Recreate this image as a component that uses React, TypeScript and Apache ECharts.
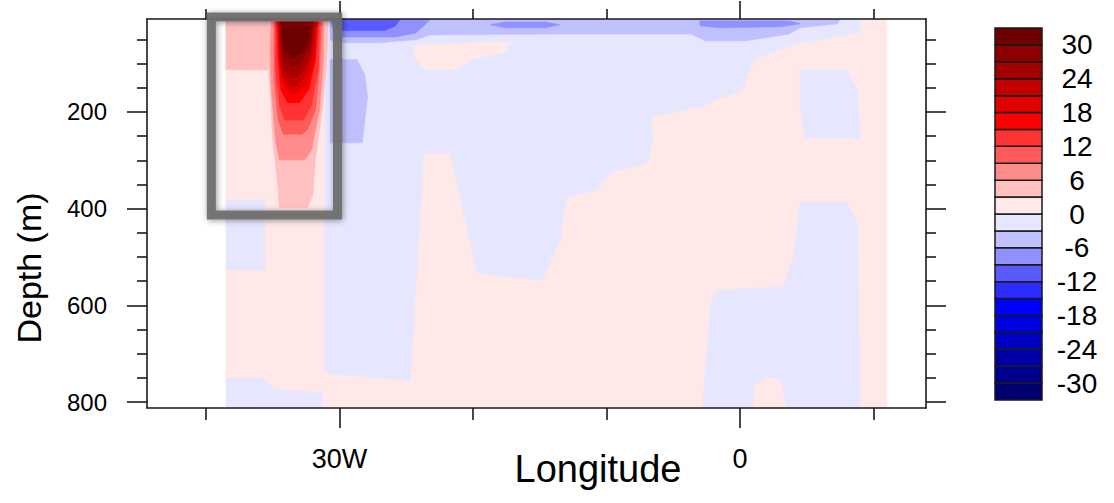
import React, { useEffect, useRef } from 'react';
import * as echarts from 'echarts';

// ---------- axes ----------
const LON_RANGE = [-44.42, 13.93];
const DEPTH_RANGE = [8, 812];
const LON_TICKS_MAJOR = [-30, 0];
const LON_TICKS_MINOR = [-40, -20, -10, 10];
const DEPTH_TICKS_MAJOR = [200, 400, 600, 800];
const DEPTH_TICKS_MINOR = [50, 100, 150, 250, 300, 350, 450, 500, 550, 650, 700, 750];

// ---------- colour bar (lower bound of each 3-unit class) ----------
const CBAR_LEVELS = [-33, -30, -27, -24, -21, -18, -15, -12, -9, -6, -3, 0, 3, 6, 9, 12, 15, 18, 21, 24, 27, 30];
const CBAR_COLORS = [
  '#00006e', '#00008c', '#0000a5', '#0000c3', '#0000e1', '#0000ff', '#2c2cff', '#5a5aff', '#9090ff', '#c0c0ff', '#e6e7ff',
  '#ffe8e8', '#ffc0c0', '#ff8c8c', '#ff5a5a', '#ff3333', '#ff0000', '#e10000', '#c30000', '#a50000', '#8c0000', '#6e0000',
];
const CBAR_LABELS = [-30, -24, -18, -12, -6, 0, 6, 12, 18, 24, 30];

// ---------- contour regions [longitude (deg, W<0), depth (m)] ----------
const domainPink = [[-38.5, 8], [11.0, 8], [11.0, 812], [-38.5, 812]];
const bigBlue = [
  [-31.1, 8], [9.0, 8], [9.0, 36.5], [4.5, 57], [1.0, 92], [0.2, 154], [-3.0, 190], [-6.7, 210], [-6.5, 258],
  [-7.0, 305], [-9.7, 326], [-10.7, 361], [-13.0, 376], [-13.5, 465], [-14.8, 548], [-17.5, 541], [-19.7, 533],
  [-21.7, 285], [-23.7, 285], [-24.7, 755], [-27.0, 750], [-31.1, 740],
];
const upperPinkPatch = [[-24.3, 61], [-17.2, 55], [-17.6, 76], [-20.2, 92], [-21.3, 113], [-23.6, 113], [-24.5, 82]];
const eastBluePatch = [[4.5, 113], [8.0, 113], [8.8, 159], [9.0, 254], [4.9, 254], [4.5, 196]];
const eastBlueDeep = [[4.5, 386], [8.0, 386], [8.8, 430], [9.0, 812], [-2.8, 812], [-2.2, 595], [-1.7, 568], [3.2, 562], [4.0, 500]];
const eastPinkNotch = [[1.0, 812], [1.1, 765], [1.9, 750], [3.0, 754], [3.5, 812]];
const westBlueBottom = [[-38.5, 750], [-35.8, 750], [-34.8, 775], [-31.3, 779], [-31.3, 812], [-38.5, 812]];
const westBlueMid = [[-38.5, 382], [-35.6, 382], [-35.6, 527], [-38.5, 527]];
const westPinkTop = [[-38.5, 8], [-35.4, 8], [-35.4, 113], [-38.5, 113]];
const boxBluePatch = [[-30.7, 92], [-28.7, 92], [-28.1, 123], [-27.9, 169], [-28.3, 264], [-30.7, 264]];
const surfaceBand = [
  [-30.7, 8], [7.5, 8], [7.3, 18], [4.5, 26], [3.7, 39], [0.4, 53], [-2.6, 53], [-3.7, 39], [-13.5, 39],
  [-23.2, 41], [-24.3, 51], [-27.0, 57], [-30.3, 57], [-30.7, 51],
];
const surfaceWest = [[-30.7, 8], [-23.2, 8], [-23.6, 20], [-24.3, 37], [-25.8, 45], [-30.3, 45]];
const surfaceLens1 = [[-18.7, 20], [-17.6, 14], [-14.6, 14], [-13.5, 20], [-14.6, 26], [-17.6, 26]];
const surfaceLens2 = [[-3.0, 12], [3.7, 12], [4.5, 18], [3.0, 24], [-1.5, 26], [-3.0, 22]];
const surfaceCore = [[-30.3, 10], [-25.5, 10], [-25.8, 22], [-26.6, 32], [-30.0, 32]];
const blob3 = [
  [-35.4, 8], [-30.9, 8], [-30.9, 51], [-31.0, 113], [-31.3, 196], [-31.8, 299], [-32.0, 372], [-32.4, 397],
  [-34.5, 397], [-34.6, 361], [-35.0, 258], [-35.2, 154], [-35.4, 72],
];
const blob6 = [[-35.1, 8], [-31.2, 8], [-31.2, 92], [-31.5, 196], [-32.1, 279], [-32.6, 299], [-34.5, 299], [-34.8, 258], [-35.1, 154], [-35.2, 72]];
const blob9 = [[-34.9, 8], [-31.3, 8], [-31.5, 113], [-31.8, 196], [-32.4, 237], [-32.8, 246], [-34.2, 246], [-34.6, 217], [-34.9, 134]];
const blob12 = [[-34.8, 8], [-31.5, 8], [-31.6, 113], [-32.1, 186], [-32.7, 217], [-34.1, 217], [-34.5, 186], [-34.8, 113]];
const blob15 = [[-34.7, 8], [-31.6, 8], [-31.8, 92], [-32.3, 154], [-33.0, 181], [-33.9, 181], [-34.4, 154], [-34.6, 92]];
const blob18 = [[-34.6, 8], [-31.7, 8], [-31.9, 92], [-32.5, 144], [-33.2, 161], [-33.8, 161], [-34.3, 134], [-34.5, 92]];
const blob21 = [[-34.5, 8], [-31.8, 8], [-32.0, 82], [-32.7, 130], [-33.3, 146], [-33.7, 146], [-34.3, 123], [-34.5, 82]];
const blob24 = [[-34.45, 8], [-31.9, 8], [-32.1, 72], [-32.7, 113], [-33.3, 128], [-33.8, 126], [-34.3, 105], [-34.45, 61]];
const blob27 = [[-34.4, 8], [-32.0, 8], [-32.2, 61], [-32.8, 94], [-33.5, 108], [-34.1, 94], [-34.4, 51]];
const blob30 = [[-34.3, 24], [-32.2, 24], [-32.3, 50], [-32.7, 76], [-33.5, 88], [-34.1, 74], [-34.35, 45]];

// drawn in order; level = lower bound of the class
const REGIONS = [
  { level: 0, pts: domainPink },
  { level: -3, pts: bigBlue },
  { level: 0, pts: upperPinkPatch },
  { level: -3, pts: eastBluePatch },
  { level: -3, pts: eastBlueDeep },
  { level: 0, pts: eastPinkNotch },
  { level: -3, pts: westBlueBottom },
  { level: -3, pts: westBlueMid },
  { level: 3, pts: westPinkTop },
  { level: -6, pts: boxBluePatch },
  { level: -6, pts: surfaceBand },
  { level: -9, pts: surfaceWest },
  { level: -9, pts: surfaceLens1 },
  { level: -9, pts: surfaceLens2 },
  { level: -12, pts: surfaceCore },
  { level: 3, pts: blob3 },
  { level: 6, pts: blob6 },
  { level: 9, pts: blob9 },
  { level: 12, pts: blob12 },
  { level: 15, pts: blob15 },
  { level: 18, pts: blob18 },
  { level: 21, pts: blob21 },
  { level: 24, pts: blob24 },
  { level: 27, pts: blob27 },
  { level: 30, pts: blob30 },
];

// highlighted box [lonWest, depthTop, lonEast, depthBottom]
const BOX = [-39.6, 4, -30.15, 413];

const FONT = 'Liberation Sans, Arial, Helvetica, sans-serif';
const colorOf = (lvl: number) => CBAR_COLORS[CBAR_LEVELS.indexOf(lvl)];
const lonFmt = (v: number) => (v === 0 ? '0' : v < 0 ? `${-v}W` : `${v}E`);

export default function App() {
  const ref = useRef<HTMLDivElement>(null);
  useEffect(() => {
    if (!ref.current) return;
    const chart = echarts.init(ref.current, undefined, { renderer: 'svg' });
    const lineStyle = { color: '#1a1a1a', width: 1.6 };
    const xBase = {
      type: 'value', gridIndex: 0, min: LON_RANGE[0], max: LON_RANGE[1], z: 5,
      splitLine: { show: false },
    };
    const yBase = {
      type: 'value', gridIndex: 0, min: DEPTH_RANGE[0], max: DEPTH_RANGE[1], inverse: true, z: 5,
      splitLine: { show: false },
    };
    chart.setOption({
      animation: false,
      backgroundColor: '#ffffff',
      grid: [
        { left: 147, top: 19, width: 779, height: 389 },
        { left: 995, top: 28, width: 47, height: 372 },
      ],
      xAxis: [
        {
          ...xBase, position: 'bottom',
          axisLine: { show: true, onZero: false, lineStyle },
          axisTick: { show: true, customValues: LON_TICKS_MAJOR, length: 20, lineStyle },
          axisLabel: { show: true, customValues: LON_TICKS_MAJOR, formatter: lonFmt, margin: 37, fontSize: 27, color: '#000', fontFamily: FONT },
        },
        {
          ...xBase, position: 'bottom',
          axisLine: { show: false, onZero: false },
          axisTick: { show: true, customValues: LON_TICKS_MINOR, length: 12, lineStyle },
          axisLabel: { show: false },
        },
        {
          ...xBase, position: 'top',
          axisLine: { show: true, onZero: false, lineStyle },
          axisTick: { show: true, customValues: LON_TICKS_MAJOR, length: 18, lineStyle },
          axisLabel: { show: false },
        },
        {
          ...xBase, position: 'top',
          axisLine: { show: false, onZero: false },
          axisTick: { show: true, customValues: LON_TICKS_MINOR, length: 10, lineStyle },
          axisLabel: { show: false },
        },
        { type: 'value', gridIndex: 1, min: 0, max: 1, show: false },
      ],
      yAxis: [
        {
          ...yBase, position: 'left',
          axisLine: { show: true, onZero: false, lineStyle },
          axisTick: { show: true, customValues: DEPTH_TICKS_MAJOR, length: 20, lineStyle },
          axisLabel: { show: true, customValues: DEPTH_TICKS_MAJOR, margin: 40, fontSize: 24, color: '#000', fontFamily: FONT },
        },
        {
          ...yBase, position: 'left',
          axisLine: { show: false, onZero: false },
          axisTick: { show: true, customValues: DEPTH_TICKS_MINOR, length: 10, lineStyle },
          axisLabel: { show: false },
        },
        {
          ...yBase, position: 'right',
          axisLine: { show: true, onZero: false, lineStyle },
          axisTick: { show: true, customValues: DEPTH_TICKS_MAJOR, length: 20, lineStyle },
          axisLabel: { show: false },
        },
        {
          ...yBase, position: 'right',
          axisLine: { show: false, onZero: false },
          axisTick: { show: true, customValues: DEPTH_TICKS_MINOR, length: 10, lineStyle },
          axisLabel: { show: false },
        },
        {
          type: 'value', gridIndex: 1, min: -33, max: 33, position: 'right',
          axisLine: { show: false }, axisTick: { show: false }, splitLine: { show: false },
          axisLabel: {
            show: true, customValues: CBAR_LABELS, margin: 35, align: 'center',
            fontSize: 28, color: '#000', fontFamily: FONT,
          },
        },
      ],
      graphic: [
        {
          type: 'text', x: 598, y: 469,
          style: { text: 'Longitude', fontSize: 38, fontFamily: FONT, fill: '#000', align: 'center', verticalAlign: 'middle' },
        },
        {
          type: 'text', x: 29, y: 268, rotation: Math.PI / 2,
          style: { text: 'Depth (m)', fontSize: 34, fontFamily: FONT, fill: '#000', align: 'center', verticalAlign: 'middle' },
        },
      ],
      series: [
        {
          type: 'custom', name: 'field', xAxisIndex: 0, yAxisIndex: 0, clip: true, z: 1,
          data: REGIONS.map((r) => [r.pts[0][0], r.pts[0][1], r.level]),
          renderItem: (params: any, api: any) => {
            const r = REGIONS[params.dataIndex];
            const points = r.pts.map((p) => api.coord(p));
            const c = colorOf(r.level);
            return { type: 'polygon', shape: { points }, style: { fill: c, stroke: c, lineWidth: 0.6 } };
          },
        },
        {
          type: 'custom', name: 'box', xAxisIndex: 0, yAxisIndex: 0, clip: false, z: 8,
          data: [[BOX[0], BOX[1], BOX[2], BOX[3]]],
          renderItem: (params: any, api: any) => {
            const p1 = api.coord([api.value(0), api.value(1)]);
            const p2 = api.coord([api.value(2), api.value(3)]);
            return {
              type: 'rect',
              shape: { x: p1[0], y: p1[1], width: p2[0] - p1[0], height: p2[1] - p1[1] },
              style: {
                fill: 'none', stroke: '#6c6c6c', lineWidth: 9, opacity: 0.92,
                shadowBlur: 6, shadowColor: 'rgba(0,0,0,0.45)', shadowOffsetX: 1, shadowOffsetY: 1,
              },
            };
          },
        },
        {
          type: 'custom', name: 'colorbar', xAxisIndex: 4, yAxisIndex: 4, z: 2,
          data: CBAR_LEVELS.map((lo) => [lo, lo + 3]),
          renderItem: (params: any, api: any) => {
            const lo = api.value(0);
            const hi = api.value(1);
            const a = api.coord([0, hi]);
            const b = api.coord([1, lo]);
            return {
              type: 'rect',
              shape: { x: a[0], y: a[1], width: b[0] - a[0], height: b[1] - a[1] },
              style: { fill: CBAR_COLORS[params.dataIndex], stroke: '#1a1a1a', lineWidth: 1.5 },
            };
          },
        },
      ],
    });
    return () => chart.dispose();
  }, []);
  return <div ref={ref} style={{ position: 'absolute', left: 0, top: 0, width: 1114, height: 503 }} />;
}
